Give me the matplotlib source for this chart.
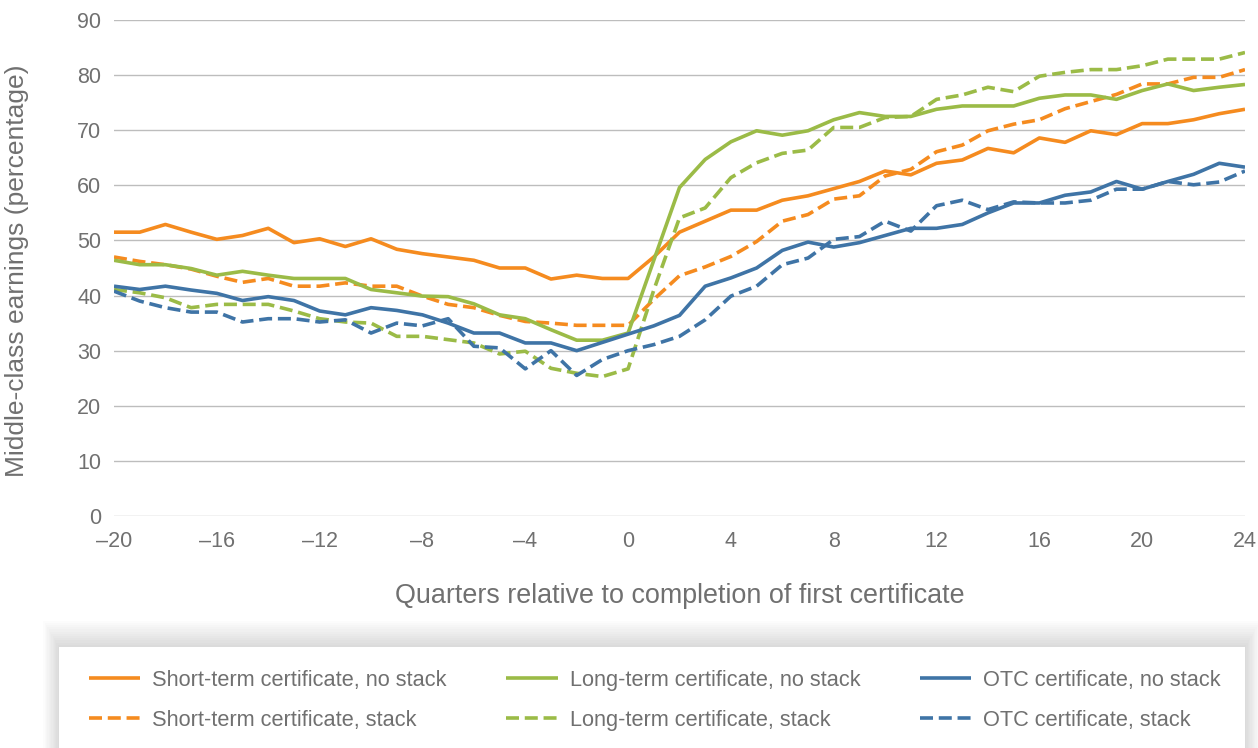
import matplotlib
matplotlib.use("Agg")
import matplotlib.pyplot as plt
from matplotlib.lines import Line2D
from matplotlib.patches import Rectangle

plt.rcParams["font.family"] = ["Liberation Sans", "DejaVu Sans"]

# quarters relative to completion of first certificate
quarters = list(range(-20, 25))

st_no = [51.5, 51.5, 52.9, 51.5, 50.2, 50.9, 52.2, 49.6, 50.3, 48.9, 50.3,
         48.4, 47.6, 47.0, 46.4, 45.0, 45.0, 43.0, 43.7, 43.1, 43.1,
         47.0, 51.5, 53.5, 55.5, 55.5, 57.3, 58.1, 59.4, 60.7, 62.6, 61.9, 64.0,
         64.6, 66.7, 65.9, 68.6, 67.8, 69.9, 69.2, 71.2, 71.2, 71.9, 73.0, 73.8]
st_stack = [47.0, 46.2, 45.6, 44.8, 43.5, 42.4, 43.1, 41.7, 41.7, 42.3, 41.7,
            41.7, 39.9, 38.4, 37.8, 36.4, 35.3, 35.0, 34.6, 34.6, 34.6,
            39.3, 43.6, 45.2, 47.1, 49.8, 53.5, 54.7, 57.5, 58.1, 61.7, 62.9, 66.1,
            67.3, 69.9, 71.1, 71.9, 73.9, 75.2, 76.5, 78.4, 78.4, 79.6, 79.6, 81.0]
lt_no = [46.4, 45.6, 45.6, 44.9, 43.7, 44.4, 43.7, 43.1, 43.1, 43.1, 41.1,
         40.5, 39.9, 39.8, 38.5, 36.5, 35.8, 33.8, 31.9, 31.9, 33.2,
         46.4, 59.6, 64.7, 67.9, 69.9, 69.1, 69.9, 71.9, 73.2, 72.5, 72.5, 73.8,
         74.4, 74.4, 74.4, 75.8, 76.4, 76.4, 75.6, 77.2, 78.4, 77.2, 77.8, 78.3]
lt_stack = [41.1, 40.5, 39.6, 37.8, 38.4, 38.4, 38.4, 37.2, 35.8, 35.2, 35.0,
            32.6, 32.6, 32.0, 31.4, 29.4, 29.9, 26.8, 25.9, 25.3, 26.7,
            41.0, 54.1, 55.9, 61.4, 64.1, 65.8, 66.4, 70.5, 70.5, 72.3, 72.5, 75.6,
            76.4, 77.8, 77.0, 79.8, 80.5, 81.0, 81.0, 81.7, 82.9, 82.9, 82.9, 84.1]
otc_no = [41.7, 41.1, 41.7, 41.0, 40.4, 39.1, 39.8, 39.1, 37.2, 36.5, 37.8,
          37.3, 36.5, 35.0, 33.2, 33.2, 31.4, 31.4, 30.0, 31.5, 33.0,
          34.5, 36.4, 41.7, 43.2, 45.0, 48.2, 49.7, 48.8, 49.6, 50.9, 52.2, 52.2,
          52.9, 55.0, 56.8, 56.8, 58.2, 58.8, 60.7, 59.3, 60.7, 62.0, 64.0, 63.3]
otc_stack = [40.8, 39.0, 37.8, 37.0, 37.0, 35.2, 35.8, 35.8, 35.2, 35.6, 33.2,
             35.0, 34.5, 35.8, 30.8, 30.5, 26.7, 30.0, 25.5, 28.4, 30.0,
             31.1, 32.6, 35.6, 39.9, 41.7, 45.6, 46.8, 50.2, 50.7, 53.5, 51.7, 56.3,
             57.3, 55.6, 57.0, 56.8, 56.8, 57.3, 59.3, 59.3, 60.7, 60.1, 60.6, 62.6]

ORANGE = "#F58B1F"
GREEN = "#9BBB47"
BLUE = "#3F74A6"
TEXT = "#707070"
GRID = "#BDBDBD"

series = [
    ("Short-term certificate, no stack", st_no, ORANGE, "-"),
    ("Short-term certificate, stack", st_stack, ORANGE, "--"),
    ("Long-term certificate, no stack", lt_no, GREEN, "-"),
    ("Long-term certificate, stack", lt_stack, GREEN, "--"),
    ("OTC certificate, no stack", otc_no, BLUE, "-"),
    ("OTC certificate, stack", otc_stack, BLUE, "--"),
]

W, H = 1258, 748
fig = plt.figure(figsize=(W / 100, H / 100), dpi=100)
ax = fig.add_axes([114 / W, 1 - 516 / H, (1245 - 114) / W, (516 - 20) / H])

DASH = (3.6, 1.6)
handles = []
for name, vals, col, ls in series:
    kw = dict(color=col, lw=2.6, solid_capstyle="butt", dash_capstyle="butt",
              solid_joinstyle="round")
    if ls == "--":
        ax.plot(quarters, vals, dashes=DASH, **kw)
    else:
        ax.plot(quarters, vals, **kw)
    handles.append(Line2D([], [], label=name, color=col, lw=2.6,
                          dashes=DASH if ls == "--" else (None, None),
                          dash_capstyle="butt", solid_capstyle="butt"))

ax.set_xlim(-20, 24)
ax.set_ylim(0, 90)
ax.set_xticks(range(-20, 25, 4))
ax.set_xticklabels([f"\u2013{abs(v)}" if v < 0 else str(v) for v in range(-20, 25, 4)])
ax.set_yticks(range(0, 91, 10))
ax.yaxis.grid(True, color=GRID, lw=1.0)
ax.set_axisbelow(True)
for s in ax.spines.values():
    s.set_visible(False)
ax.tick_params(axis="both", length=0, labelsize=15.5, labelcolor=TEXT)
ax.tick_params(axis="x", pad=11)
ax.tick_params(axis="y", pad=9)

ax.set_ylabel("Middle-class earnings (percentage)", fontsize=19, color=TEXT)
ax.yaxis.set_label_coords(-0.0755, 0.495)
ax.set_xlabel("Quarters relative to completion of first certificate", fontsize=19.4, color=TEXT)
ax.xaxis.set_label_coords(0.5, -0.135)

# legend panel with soft shadow
x0, y0, x1 = 59, 647, 1245
for i in range(12, 0, -1):
    fig.patches.append(Rectangle(((x0 - i * 1.3) / W, 0), (x1 - x0 + i * 2.6) / W,
                                 (H - y0 + i * 2.2) / H, transform=fig.transFigure,
                                 facecolor="#000000", alpha=0.011, lw=0, zorder=0))
fig.patches.append(Rectangle((x0 / W, 0), (x1 - x0) / W, (H - y0) / H,
                             transform=fig.transFigure, facecolor="white", lw=0, zorder=1))

leg = fig.legend(handles=handles, loc="upper left", bbox_to_anchor=(89 / W, 1 - 670 / H),
                 ncol=3, frameon=False, fontsize=15.7, handlelength=2.35,
                 handletextpad=0.55, columnspacing=2.74, labelspacing=0.86,
                 borderpad=0, borderaxespad=0)
for t in leg.get_texts():
    t.set_color(TEXT)
leg.set_zorder(5)

fig.savefig("out.png", dpi=100)
